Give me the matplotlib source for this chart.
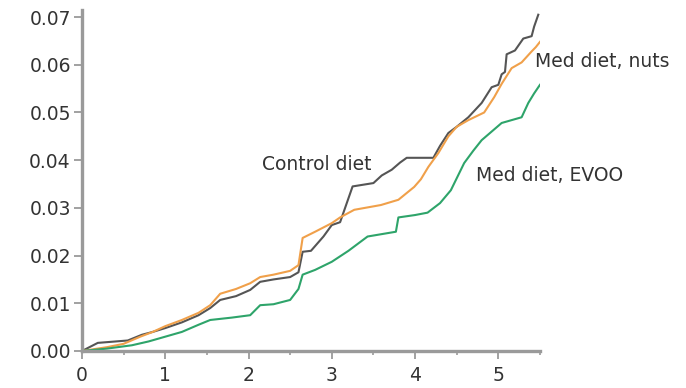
import numpy as np
import matplotlib
matplotlib.use("Agg")
import matplotlib.pyplot as plt

plt.rcParams['font.family'] = ['DejaVu Sans']

# cumulative incidence
control_x = [0, 0.19, 0.55, 0.72, 0.85, 1.0, 1.2, 1.4, 1.54, 1.66, 1.85, 2.02, 2.14, 2.3, 2.5, 2.6,
             2.65, 2.75, 2.9, 3.0, 3.1, 3.25, 3.5, 3.6, 3.72, 3.82, 3.9, 4.22, 4.3, 4.4, 4.5, 4.64,
             4.8, 4.92, 5.0, 5.04, 5.08, 5.1, 5.2, 5.3, 5.4, 5.43, 5.48]
control_y = [0, 0.0017, 0.0022, 0.0034, 0.004, 0.0048, 0.006, 0.0075, 0.009, 0.0107, 0.0115, 0.0128,
             0.0145, 0.015, 0.0155, 0.0165, 0.0208, 0.021, 0.024, 0.0264, 0.027, 0.0345, 0.0352,
             0.0368, 0.038, 0.0395, 0.0405, 0.0405, 0.043, 0.0457, 0.047, 0.049, 0.052, 0.0553,
             0.0558, 0.058, 0.0585, 0.0622, 0.063, 0.0655, 0.066, 0.068, 0.0705]

nuts_x = [0, 0.3, 0.5, 0.7, 0.85, 1.0, 1.2, 1.4, 1.54, 1.66, 1.85, 2.02, 2.14, 2.3, 2.5, 2.6, 2.65,
          2.8, 3.0, 3.1, 3.27, 3.59, 3.8, 3.99, 4.07, 4.16, 4.28, 4.4, 4.5, 4.64, 4.83, 4.95, 5.04,
          5.16, 5.28, 5.4, 5.45, 5.5]
nuts_y = [0, 0.0008, 0.0015, 0.003, 0.004, 0.0052, 0.0065, 0.008, 0.0096, 0.012, 0.013, 0.0142,
          0.0155, 0.016, 0.0168, 0.018, 0.0237, 0.025, 0.0268, 0.028, 0.0296, 0.0306, 0.0317, 0.0344,
          0.036, 0.0386, 0.0415, 0.045, 0.047, 0.0484, 0.05, 0.0532, 0.056, 0.0593, 0.0605, 0.0628,
          0.0637, 0.0648]

evoo_x = [0, 0.3, 0.6, 0.8, 1.0, 1.2, 1.4, 1.54, 1.8, 2.02, 2.14, 2.3, 2.5, 2.6, 2.65, 2.8, 3.0,
          3.2, 3.43, 3.77, 3.8, 4.0, 4.15, 4.3, 4.43, 4.59, 4.7, 4.8, 4.92, 5.04, 5.28, 5.36, 5.43, 5.5]
evoo_y = [0, 0.0005, 0.0012, 0.002, 0.003, 0.004, 0.0055, 0.0065, 0.007, 0.0075, 0.0096, 0.0098,
          0.0107, 0.013, 0.016, 0.017, 0.0187, 0.021, 0.024, 0.025, 0.028, 0.0285, 0.029, 0.031,
          0.0337, 0.0394, 0.042, 0.0442, 0.046, 0.0478, 0.049, 0.052, 0.054, 0.0558]

labels = ["Control diet", "Med diet, nuts", "Med diet, EVOO"]
yticks = [0.00, 0.01, 0.02, 0.03, 0.04, 0.05, 0.06, 0.07]
xticks = [0, 1, 2, 3, 4, 5]

fig = plt.figure(figsize=(6.86, 3.88), dpi=100)
ax = fig.add_axes([0.1195, 0.0954, 0.6676, 0.879])

ax.plot(control_x, control_y, color='#555555', lw=1.5)
ax.plot(nuts_x, nuts_y, color='#f0a04a', lw=1.5)
ax.plot(evoo_x, evoo_y, color='#2ea46a', lw=1.5)

ax.text(2.16, 0.0392, labels[0], fontsize=13.5, color='#333333', va='center', ha='left')
ax.text(5.44, 0.0607, labels[1], fontsize=13.5, color='#333333', va='center', ha='left',
        clip_on=False)
ax.text(4.73, 0.0367, labels[2], fontsize=13.5, color='#333333', va='center', ha='left',
        clip_on=False)

ax.set_xlim(0, 5.5)
ax.set_ylim(0, 0.0715)
ax.set_yticks(yticks)
ax.set_yticklabels(["%.2f" % v for v in yticks])
ax.set_xticks(xticks)
ax.set_xticks(np.arange(0.5, 5.6, 1.0), minor=True)

for s in ['top', 'right']:
    ax.spines[s].set_visible(False)
for s in ['left', 'bottom']:
    ax.spines[s].set_color('#9a9a9a')
    ax.spines[s].set_linewidth(2.4)

ax.tick_params(axis='both', which='major', colors='#9a9a9a', width=1.3, length=6,
               labelsize=13.5, labelcolor='#333333')
ax.tick_params(axis='y', which='major', pad=2)
ax.tick_params(axis='x', which='major', pad=5)
ax.tick_params(axis='x', which='minor', colors='#9a9a9a', width=1.2, length=3)

fig.savefig("out.png", dpi=100)
